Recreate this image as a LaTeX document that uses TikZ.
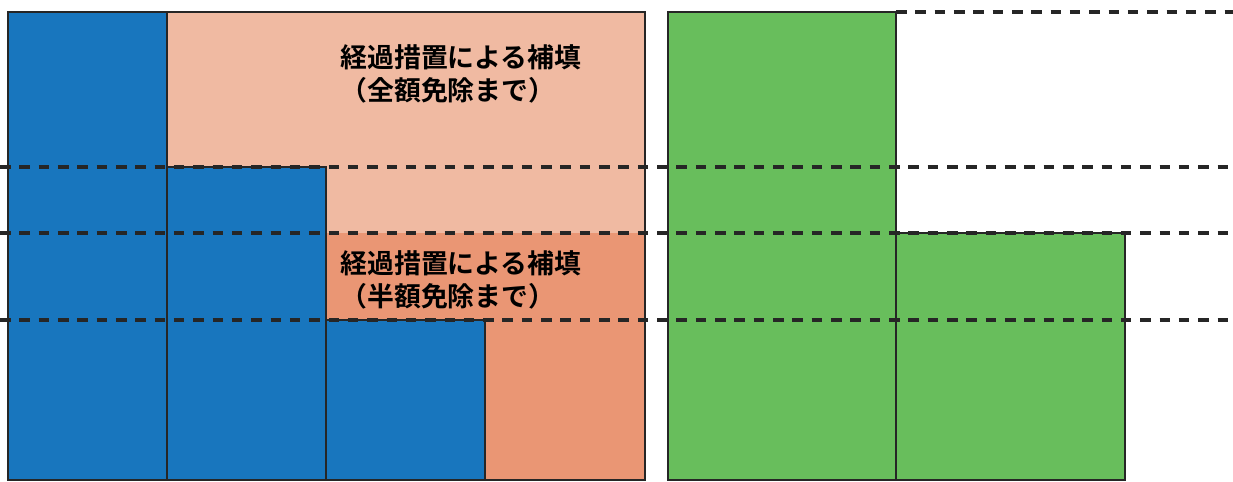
\documentclass[tikz,border=0pt]{standalone}
\usepackage{fontspec}
\newfontfamily\jpfont{Noto Sans CJK JP}[BoldFont=* Bold]
\definecolor{colblue}{RGB}{24,118,190}
\definecolor{colpink}{RGB}{240,186,162}
\definecolor{colsalmon}{RGB}{234,150,116}
\definecolor{colgreen}{RGB}{104,190,92}
\definecolor{colline}{RGB}{38,38,38}
\tikzset{
  block/.style={draw=colline, line width=1.5pt},
  level/.style={draw=colline, line width=1.9pt, dash pattern=on 6pt off 5pt},
  label/.style={anchor=base west, inner sep=0pt, align=left,
    font=\jpfont\bfseries\fontsize{15.3pt}{18.7pt}\selectfont}
}
\begin{document}
\begin{tikzpicture}[x=0.02cm, y=0.02cm]
      \useasboundingbox (0,0) rectangle (1233,481);
      \fill[white] (0,0) rectangle (1233,481);
      \fill[colpink] (167,1) rectangle (645,469);
      \fill[colsalmon] (326,1) rectangle (645,248);
      \draw[block, fill=colblue] (8,1) rectangle (167,469);
      \draw[block, fill=colblue] (167,1) rectangle (326,314);
      \draw[block, fill=colblue] (326,1) rectangle (485,161);
      \draw[block] (167,469) -- (645,469) -- (645,1) -- (485,1);
      \draw[block, fill=colgreen] (668,1) rectangle (896,469);
      \draw[block, fill=colgreen] (896,1) rectangle (1125,248);
      \begin{scope}[level]
        \draw (896,469) -- (1233,469);
        \draw (0,314) -- (1233,314);
        \draw (0,248) -- (1233,248);
        \draw (0,161) -- (1233,161);
      \end{scope}
      \node[label] (full) at (340,381) {経過措置による補填\\（全額免除まで）};
      \node[label] (half) at (340,175) {経過措置による補填\\（半額免除まで）};
    \end{tikzpicture}
\end{document}
